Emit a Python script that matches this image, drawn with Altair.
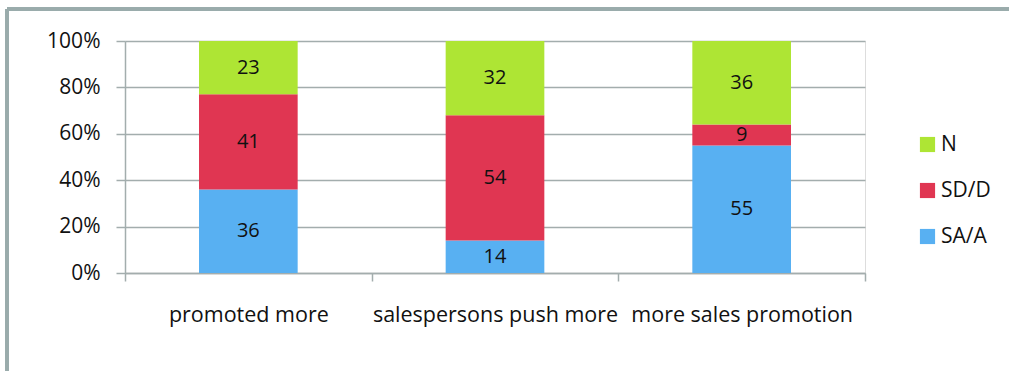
import altair as alt
import pandas as pd

categories = ["promoted more", "salespersons push more", "more sales promotion"]
series = ["SA/A", "SD/D", "N"]
sa_a = [36, 14, 55]
sd_d = [41, 54, 9]
n_vals = [23, 32, 36]
colors = {"N": "#aee534", "SD/D": "#e03652", "SA/A": "#58b0f2"}
y_ticks = [0, 20, 40, 60, 80, 100]

rows = []
for i, c in enumerate(categories):
    for k, (s, vals) in enumerate(zip(series, [sa_a, sd_d, n_vals])):
        rows.append({"category": c, "series": s, "value": vals[i], "ord": k})
df = pd.DataFrame(rows)

FONT = "Open Sans"
GRID = "#a3adad"

base = alt.Chart(df).transform_stack(
    stack="value", groupby=["category"], as_=["y0", "y1"],
    sort=[alt.SortField("ord", order="ascending")]
).transform_calculate(mid="(datum.y0 + datum.y1) / 2")

x_enc = alt.X("category:N", sort=categories, title=None,
              scale=alt.Scale(paddingInner=0, paddingOuter=0),
              axis=alt.Axis(labelAngle=0, tickBand="extent", tickSize=8,
                            tickColor=GRID, domainColor=GRID, tickWidth=1.5,
                            domainWidth=1.5, labelPadding=23, labelFontSize=21.5,
                            labelFont=FONT, labelColor="#111111", grid=False,
                            labelLimit=0, labelOverlap=False))
y_scale = alt.Scale(domain=[0, 100], nice=False)

bars = base.mark_bar(width=alt.RelativeBandSize(0.4)).encode(
    x=x_enc,
    y=alt.Y("y0:Q", scale=y_scale, title=None,
            axis=alt.Axis(values=y_ticks, labelExpr="datum.value + '%'",
                          grid=True, gridColor=GRID, gridWidth=1.5,
                          domainColor=GRID, domainWidth=1.5, tickColor=GRID,
                          tickWidth=1.5, tickSize=9, labelPadding=16,
                          labelFontSize=21, labelFont=FONT,
                          labelColor="#111111")),
    y2="y1:Q",
    color=alt.Color("series:N",
                    scale=alt.Scale(domain=["N", "SD/D", "SA/A"],
                                    range=[colors["N"], colors["SD/D"], colors["SA/A"]]),
                    legend=alt.Legend(title=None, orient="none", legendX=792,
                                      legendY=93, symbolType="square",
                                      symbolSize=230, symbolStrokeWidth=0,
                                      labelFontSize=21, labelFont=FONT,
                                      labelColor="#111111", rowPadding=24,
                                      labelOffset=3)),
)

labels = base.mark_text(fontSize=20, font=FONT, color="#111111", baseline="middle").encode(
    x=alt.X("category:N", sort=categories),
    y=alt.Y("mid:Q", scale=y_scale),
    text="value:Q",
)

frame_left = alt.Chart(df).mark_rule(color="#9aabab", strokeWidth=3).encode(
    x=alt.value(-118), y=alt.value(-32), y2=alt.value(340))
frame_top = alt.Chart(df).mark_rule(color="#9aabab", strokeWidth=3).encode(
    x=alt.value(-118), x2=alt.value(890), y=alt.value(-32))

chart = alt.layer(bars, labels, frame_left, frame_top).properties(
    width=740, height=232,
    autosize=alt.AutoSizeParams(type="none"),
    padding={"left": 125, "top": 41, "right": 144, "bottom": 98},
).configure_view(stroke=None).configure(background="white")

chart.save("out.html", embed_options={"renderer": "svg", "actions": False})
